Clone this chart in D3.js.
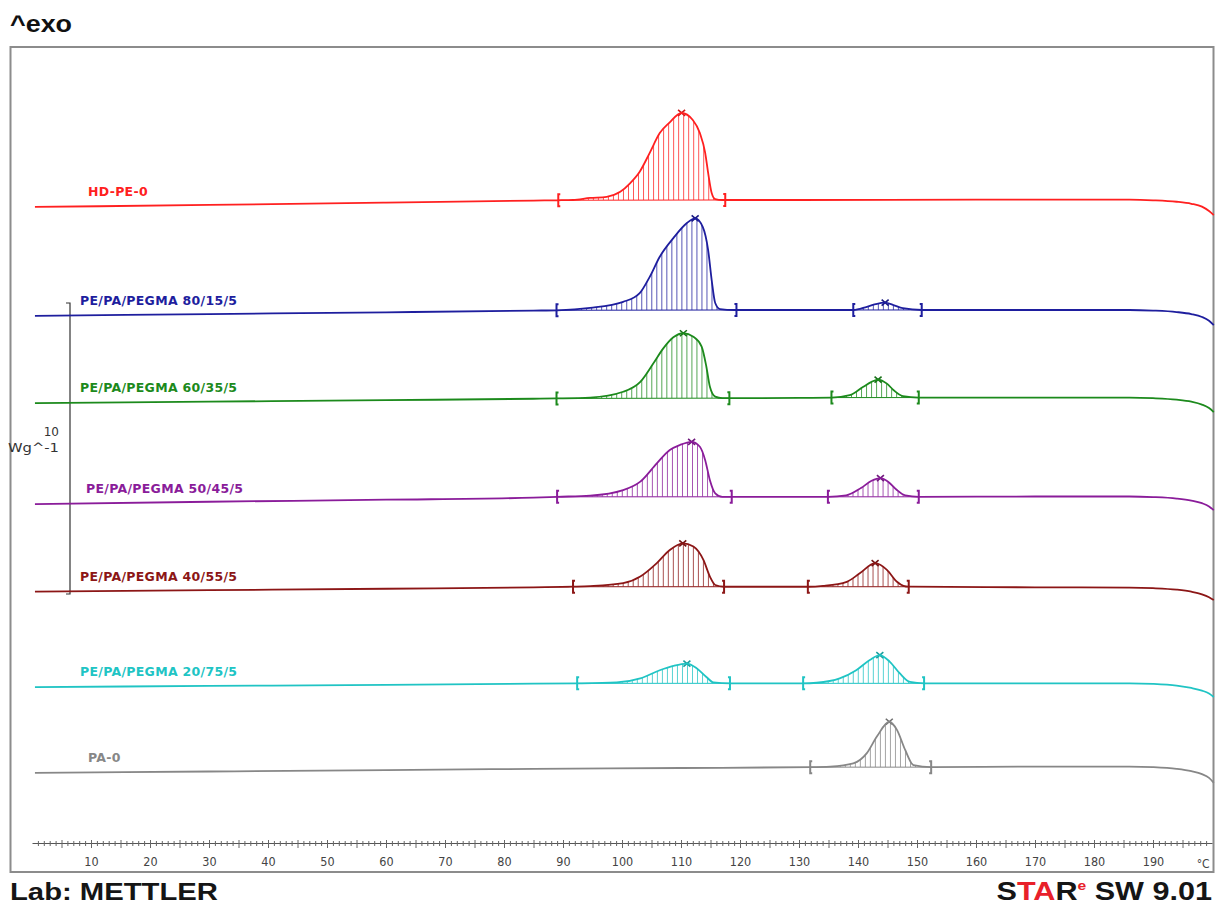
<!DOCTYPE html>
<html>
<head>
<meta charset="utf-8">
<script src="https://cdn.jsdelivr.net/npm/d3@7"></script>
<style>
  html, body { margin: 0; padding: 0; background: #fff; }
  svg { display: block; }
  text { font-family: "DejaVu Sans", Verdana, sans-serif; }
</style>
</head>
<body>
<div id="chart"></div>
<script>
// sample names and colours, top to bottom
const names = ["HD-PE-0", "PE/PA/PEGMA 80/15/5", "PE/PA/PEGMA 60/35/5", "PE/PA/PEGMA 50/45/5",
  "PE/PA/PEGMA 40/55/5", "PE/PA/PEGMA 20/75/5", "PA-0"];
const colors = ["#ff2020", "#1e1e9e", "#1c8a1c", "#8a1c9a", "#8c1616", "#20c4c4", "#878787"];

// vertical shift of every curve (W/g)
const offsets = [13.30, 9.56, 6.56, 3.09, 0.08, -3.20, -6.15];

// heat flow [°C, W/g] (relative to each curve's shift)
const hdpe = [[0.5,0],[30,0.07],[60,0.15],[85,0.22],[89,0.23],[91.7,0.24],[94.6,0.31],[97.4,0.35],[99.7,0.52],
  [101.4,0.82],[103,1.21],[104.7,1.86],[106.4,2.54],[108,2.89],[110.1,3.23],[112,2.99],[113.2,2.54],[114.1,1.86],
  [114.6,1.17],[115.2,0.48],[115.8,0.27],[117,0.24],[130,0.24],[160,0.25],[186,0.25],[190,0.23],[194,0.18],
  [196.5,0.11],[198.3,0.01],[199.5,-0.14],[200.3,-0.28]];
const pe80 = [[0.5,0],[30,0.06],[60,0.12],[85,0.18],[89,0.19],[94.6,0.27],[100.2,0.48],[103,0.78],[104.7,1.34],
  [106.4,2.03],[108.7,2.67],[111,3.19],[112.4,3.35],[113.7,3.05],[114.6,2.26],[115.2,1.23],[115.8,0.44],[116.6,0.23],
  [119,0.20],[130,0.20],[139.2,0.20],[141.5,0.31],[143,0.40],[144.6,0.45],[146,0.37],[147.6,0.26],[150.8,0.20],
  [170,0.20],[186,0.20],[190,0.18],[194,0.13],[196.5,0.06],[198.3,-0.04],[199.5,-0.17],[200.3,-0.32]];
const pe60 = [[0.5,0],[30,0.05],[60,0.10],[85,0.15],[88.9,0.16],[94.6,0.19],[100.2,0.39],[103.1,0.73],[105.3,1.36],
  [107,1.88],[108.7,2.26],[110.4,2.40],[112.1,2.28],[113.5,1.94],[114.3,1.25],[114.9,0.56],[115.8,0.22],[117,0.17],
  [130,0.18],[135.5,0.19],[138.6,0.27],[140.9,0.56],[142.3,0.73],[143.4,0.81],[144.9,0.67],[146,0.45],[147.6,0.24],
  [150.3,0.19],[170,0.19],[186,0.19],[190,0.17],[194,0.12],[196.5,0.05],[198.3,-0.05],[199.5,-0.17],[200.3,-0.31]];
const pe50 = [[0.5,0],[30,0.08],[60,0.15],[85,0.22],[89,0.25],[94.6,0.29],[100.2,0.48],[103.1,0.77],[105.9,1.40],
  [108.1,1.86],[109.8,2.03],[111.8,2.14],[113.2,1.97],[114.1,1.51],[114.9,0.82],[115.8,0.37],[117,0.25],[130,0.25],
  [134.9,0.25],[138,0.30],[140.5,0.55],[142.3,0.80],[143.8,0.89],[145.2,0.75],[146.5,0.50],[148,0.30],[150.3,0.25],
  [170,0.26],[186,0.26],[190,0.24],[194,0.19],[196.5,0.12],[198.3,0.03],[199.5,-0.08],[200.3,-0.21]];
const pe40 = [[0.5,0],[30,0.05],[60,0.10],[85,0.15],[91.7,0.17],[94.6,0.19],[100.2,0.29],[103.1,0.52],[105.9,0.98],
  [108.1,1.43],[110.3,1.66],[112.1,1.55],[113.8,1.09],[114.9,0.52],[115.8,0.23],[117.3,0.17],[131.5,0.17],[134.1,0.20],
  [138.1,0.34],[140.3,0.63],[142.9,0.98],[144.9,0.75],[146.6,0.34],[147.7,0.20],[148.6,0.17],[170,0.15],[186,0.14],
  [190,0.12],[194,0.07],[196.5,0.0],[198.3,-0.09],[199.5,-0.19],[200.3,-0.29]];
const pe20 = [[0.5,0],[30,0.04],[60,0.08],[85,0.12],[92.4,0.13],[99.1,0.16],[103.1,0.30],[106.4,0.58],[108.7,0.73],
  [111,0.81],[112.7,0.64],[114.3,0.35],[115.5,0.16],[118.3,0.13],[130.7,0.13],[133,0.15],[136.9,0.30],[139.7,0.58],
  [142,0.93],[143.7,1.10],[145.4,0.87],[147.1,0.47],[148.8,0.18],[151.2,0.13],[170,0.13],[186,0.13],[190,0.11],
  [194,0.05],[196.5,-0.03],[198.3,-0.12],[199.5,-0.22],[200.3,-0.34]];
const pa0 = [[0.5,0],[30,0.05],[60,0.10],[85,0.14],[110,0.17],[131.9,0.20],[135.3,0.22],[139.2,0.33],[141.5,0.68],
  [143.2,1.25],[145.3,1.76],[146.6,1.48],[148,0.79],[149.4,0.27],[152.4,0.20],[170,0.22],[186,0.22],[190,0.20],
  [194,0.14],[196.5,0.06],[198.3,-0.04],[199.5,-0.17],[200.3,-0.34]];
const curves = [hdpe, pe80, pe60, pe50, pe40, pe20, pa0];

// integration limits [start °C, end °C, peak °C]
const peaks = [
  [[89.2, 117.5, 110.1]],
  [[88.9, 119.4, 112.4], [139.2, 150.8, 144.6]],
  [[88.9, 118.2, 110.4], [135.5, 150.3, 143.4]],
  [[89.0, 118.6, 111.8], [134.9, 150.3, 143.8]],
  [[91.7, 117.3, 110.3], [131.5, 148.6, 142.9]],
  [[92.4, 118.3, 111.0], [130.7, 151.2, 143.7]],
  [[131.9, 152.4, 145.3]]
];

const tickLabels = [10, 20, 30, 40, 50, 60, 70, 80, 90, 100, 110, 120, 130, 140, 150, 160, 170, 180, 190];
const scaleBar = [0, 10]; // W/g

// layout
const W = 1216, H = 906;
const labelX = [88, 80, 80, 86, 80, 80, 88];
const bigFont = "Liberation Sans, Arial, sans-serif";
const smallFont = "DejaVu Sans Condensed, DejaVu Sans, sans-serif";

const svg = d3.select("#chart").append("svg").attr("width", W).attr("height", H);

const x = d3.scaleLinear().domain([0, 200]).range([32, 1212]);
const y = d3.scaleLinear().domain([0, 10]).range([594, 303]);

// frame
svg.append("rect").attr("x", 10.5).attr("y", 47).attr("width", 1203).attr("height", 825)
  .attr("fill", "none").attr("stroke", "#8c8c8c").attr("stroke-width", 2);

// titles
svg.append("text").attr("x", 10).attr("y", 32).style("font-family", bigFont)
  .attr("font-size", 24).attr("font-weight", "bold").attr("fill", "#111")
  .attr("textLength", 62).attr("lengthAdjust", "spacingAndGlyphs").text("^exo");

svg.append("text").attr("x", 10).attr("y", 900).style("font-family", bigFont)
  .attr("font-size", 24).attr("font-weight", "bold").attr("fill", "#151515")
  .attr("textLength", 208).attr("lengthAdjust", "spacingAndGlyphs").text("Lab: METTLER");

let star = svg.append("g").attr("transform", "translate(1212,900) scale(1.2,1)")
  .append("text").attr("text-anchor", "end").attr("font-size", 25.5).attr("font-weight", "bold")
  .style("font-family", bigFont).attr("fill", "#151515");
star.append("tspan").text("S");
star.append("tspan").attr("fill", "#e8202a").text("TA");
star.append("tspan").text("R");
star.append("tspan").attr("fill", "#e8202a").attr("font-size", 13).attr("dy", -10).text("e");
star.append("tspan").attr("dy", 10).text(" SW 9.01");

// x axis
const axis = d3.axisBottom(x)
  .tickValues(d3.range(1, 200))
  .tickSizeOuter(0)
  .tickFormat(d => tickLabels.includes(d) ? d : "");
const gAxis = svg.append("g").attr("transform", "translate(0,843)").call(axis);
gAxis.select(".domain").attr("stroke", "#555").attr("stroke-width", 1);
gAxis.selectAll(".tick line")
  .attr("stroke", "#666")
  .attr("y1", d => d % 5 === 0 ? -3 : -2)
  .attr("y2", d => d % 5 === 0 ? 5 : 3);
gAxis.selectAll(".tick text").attr("y", 14).attr("font-size", 12.5)
  .attr("fill", "#444").style("font-family", smallFont);
svg.append("text").attr("x", x(198.5)).attr("y", 868).attr("font-size", 12).attr("fill", "#444")
  .attr("text-anchor", "middle").style("font-family", smallFont).text("°C");

// scale bar
svg.append("path")
  .attr("d", `M66,${y(scaleBar[1])}H70V${y(scaleBar[0])}H66`)
  .attr("fill", "none").attr("stroke", "#333").attr("stroke-width", 1.2);
svg.append("text").attr("x", 59).attr("y", 436).attr("text-anchor", "end")
  .attr("font-size", 12).attr("fill", "#333").text(scaleBar[1]);
svg.append("text").attr("x", 8).attr("y", 452)
  .attr("font-size", 12).attr("fill", "#333")
  .attr("textLength", 51).attr("lengthAdjust", "spacingAndGlyphs").text("Wg^-1");

const line = d3.line().x(d => x(d[0])).y(d => y(d[1])).curve(d3.curveMonotoneX);

function valueAt(pts, t) {
  const i = d3.bisector(d => d[0]).left(pts, t);
  if (i <= 0) return pts[0][1];
  if (i >= pts.length) return pts[pts.length - 1][1];
  const a = pts[i - 1], b = pts[i];
  return a[1] + (b[1] - a[1]) * (t - a[0]) / (b[0] - a[0]);
}

const defs = svg.append("defs");

curves.forEach((c, i) => {
  const pts = c.map(d => [d[0], d[1] + offsets[i]]);
  const col = colors[i];
  const g = svg.append("g");

  peaks[i].forEach((p, j) => {
    const [t0, t1, tp] = p;
    const v0 = valueAt(pts, t0), v1 = valueAt(pts, t1);
    const base = t => v0 + (v1 - v0) * (t - t0) / (t1 - t0);
    const id = `clip-${i}-${j}`;
    const area = d3.area().x(d => x(d[0])).y0(d => y(base(d[0]))).y1(d => y(d[1])).curve(d3.curveMonotoneX);
    defs.append("clipPath").attr("id", id).append("path")
      .attr("d", area(pts.filter(d => d[0] >= t0 - 3 && d[0] <= t1 + 3)));
    const hatch = d3.range(t0 + 0.85, t1, 0.85);
    g.append("g").attr("clip-path", `url(#${id})`)
      .selectAll("line").data(hatch).enter().append("line")
      .attr("x1", t => x(t)).attr("x2", t => x(t))
      .attr("y1", t => y(base(t)))
      .attr("y2", t => y(valueAt(pts, t)) - 4)
      .attr("stroke", col).attr("stroke-width", 1).attr("opacity", 0.75);
    // integration baseline
    g.append("line").attr("x1", x(t0)).attr("x2", x(t1)).attr("y1", y(v0)).attr("y2", y(v1))
      .attr("stroke", col).attr("stroke-width", 1);
    // limit markers
    [[t0, v0, 1], [t1, v1, -1]].forEach(([t, v, s]) => {
      const px = x(t), py = y(v);
      g.append("path")
        .attr("d", `M${px + 2 * s},${py - 6}H${px}V${py + 6}H${px + 2 * s}`)
        .attr("fill", "none").attr("stroke", col).attr("stroke-width", 2);
    });
    // peak marker
    const pxp = x(tp), pyp = y(valueAt(pts, tp));
    g.append("path")
      .attr("d", `M${pxp - 3.5},${pyp - 3}L${pxp + 3.5},${pyp + 3}M${pxp - 3.5},${pyp + 3}L${pxp + 3.5},${pyp - 3}`)
      .attr("stroke", d3.color(col).darker(0.6)).attr("stroke-width", 1.6);
  });

  g.append("path").attr("d", line(pts)).attr("fill", "none")
    .attr("stroke", col).attr("stroke-width", 1.8);

  g.append("text").attr("x", labelX[i]).attr("y", y(offsets[i]) - 11)
    .attr("font-size", 12.5).attr("font-weight", "bold").attr("letter-spacing", 0.3)
    .attr("fill", col).text(names[i]);
});
</script>
</body>
</html>
